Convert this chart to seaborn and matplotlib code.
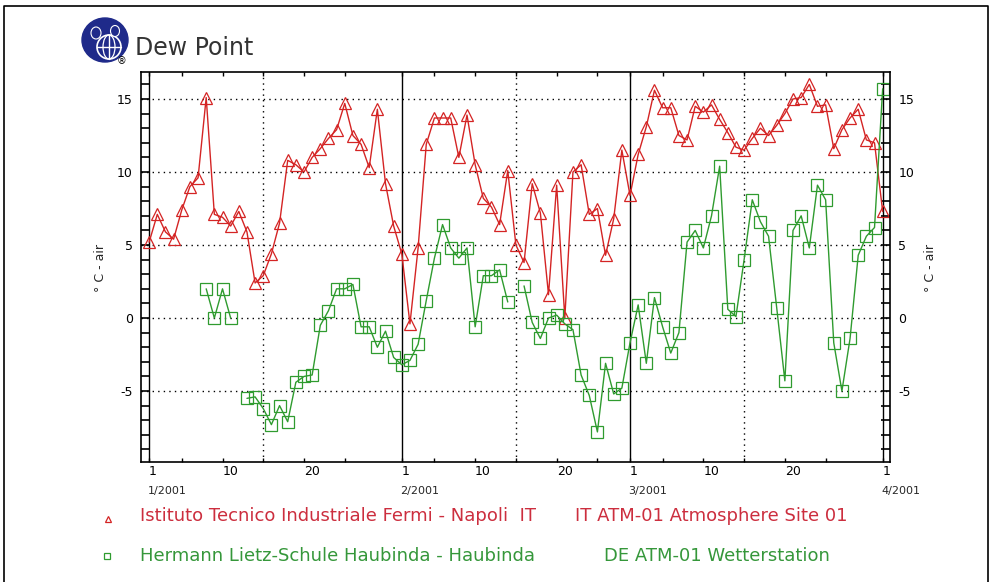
import numpy as np
import pandas as pd
import matplotlib
matplotlib.use("Agg")
import matplotlib.pyplot as plt
import matplotlib.transforms as mtransforms
from matplotlib.patches import Ellipse, Circle
import seaborn as sns

# Day offsets from 1 January 2001 through 1 April 2001
days = list(range(91))

# Dew point (deg C), Istituto Tecnico Industriale Fermi - Napoli
napoli = [5.2, 7.1, 5.9, 5.4, 7.4, 9.0, 9.6, 15.1, 7.1, 6.9,
          6.3, 7.3, 5.9, 2.4, 2.9, 4.4, 6.5, 10.8, 10.5, 10.0,
          11.0, 11.6, 12.3, 12.9, 14.7, 12.5, 11.9, 10.3, 14.3, 9.2,
          6.3, 4.4, -0.4, 4.8, 11.9, 13.7, 13.7, 13.7, 11.0, 13.9,
          10.5, 8.2, 7.6, 6.4, 10.1, 5.0, 3.8, 9.2, 7.2, 1.6,
          9.1, 0.0, 10.0, 10.5, 7.1, 7.5, 4.3, 6.8, 11.5, 8.4,
          11.2, 13.1, 15.6, 14.4, 14.4, 12.5, 12.2, 14.5, 14.1, 14.6,
          13.6, 12.7, 11.7, 11.5, 12.3, 13.0, 12.5, 13.2, 14.0, 15.0,
          15.1, 16.0, 14.5, 14.6, 11.6, 12.9, 13.7, 14.3, 12.2, 12.0,
          7.3]

# Dew point (deg C), Hermann Lietz-Schule Haubinda (None = no report)
haubinda = [None, None, None, None, None, None, None, 2.0, 0.0, 2.0,
            0.0, None, -5.5, -5.4, -6.2, -7.3, -6.0, -7.1, -4.4, -4.0,
            -3.9, -0.5, 0.5, 2.0, 2.0, 2.3, -0.6, -0.6, -2.0, -0.9,
            -2.7, -3.2, -2.9, -1.8, 1.2, 4.1, 6.4, 4.8, 4.1, 4.8,
            -0.6, 2.9, 2.9, 3.3, 1.1, None, 2.2, -0.3, -1.4, 0.0,
            0.2, -0.4, -0.8, -3.9, -5.3, -7.8, -3.1, -5.2, -4.8, -1.7,
            0.9, -3.1, 1.4, -0.6, -2.4, -1.0, 5.2, 6.0, 4.8, 7.0,
            10.4, 0.6, 0.1, 4.0, 8.1, 6.6, 5.6, 0.7, -4.3, 6.0,
            7.0, 4.8, 9.1, 8.1, -1.7, -5.0, -1.4, 4.3, 5.6, 6.2,
            15.7]

month_starts = [0, 31, 59, 90]
month_labels = ["1/2001", "2/2001", "3/2001", "4/2001"]
mid_months = [14, 45, 73]
tick_days = [0, 4, 9, 14, 19, 24, 31, 35, 40, 45, 50, 55,
             59, 63, 68, 73, 78, 83, 90]
tick_text = {0: "1", 9: "10", 19: "20", 31: "1", 40: "10", 50: "20",
             59: "1", 68: "10", 78: "20", 90: "1"}
y_major = [-5, 0, 5, 10, 15]

red_station = "Istituto Tecnico Industriale Fermi - Napoli  IT"
red_site = "IT ATM-01 Atmosphere Site 01"
green_station = "Hermann Lietz-Schule Haubinda - Haubinda"
green_site = "DE ATM-01 Wetterstation"

RED = "#d42424"
GREEN = "#2f9b2f"
RED_TXT = "#cc2e3e"
GREEN_TXT = "#35973a"
NAVY = "#1f2a8a"

sns.set_style("white")
plt.rcParams["font.family"] = ["DejaVu Sans"]

W, H = 993, 582
fig = plt.figure(figsize=(W / 100, H / 100), dpi=100)
fig.patch.set_facecolor("white")

# overlay in pixel coordinates for frame, logo and legend
ov = fig.add_axes([0, 0, 1, 1], zorder=0)
ov.set_xlim(0, W)
ov.set_ylim(H, 0)
ov.axis("off")

L, R, T, B = 141, 890, 72, 462
ax = fig.add_axes([L / W, 1 - B / H, (R - L) / W, (B - T) / H], zorder=1)
ax.patch.set_alpha(0)

df_red = pd.DataFrame({"day": days, "dew": napoli})
df_green = pd.DataFrame({"day": days, "dew": haubinda}, dtype=float)
df_green["seg"] = df_green["dew"].isna().cumsum()
df_green = df_green.dropna()

sns.lineplot(data=df_red, x="day", y="dew", ax=ax, color=RED, linewidth=1.0,
             marker="^", markersize=8.5, markerfacecolor="none",
             markeredgecolor=RED, markeredgewidth=0.9, legend=False)
sns.lineplot(data=df_green, x="day", y="dew", units="seg", estimator=None,
             ax=ax, color=GREEN, linewidth=1.0,
             marker="s", markersize=8, markerfacecolor="none",
             markeredgecolor=GREEN, markeredgewidth=0.9, legend=False)

ax.set_xlim(-1, 90.9)
ax.set_ylim(-9.86, 16.85)

for y in y_major:
    ax.axhline(y, color="black", lw=1.0, ls=(0, (1, 3)), zorder=0)
for d in mid_months:
    ax.axvline(d, color="black", lw=1.0, ls=(0, (1, 3)), zorder=0)
for d in month_starts:
    ax.axvline(d, color="black", lw=1.0, zorder=0)

for s in ax.spines.values():
    s.set_visible(True)
    s.set_color("black")
    s.set_linewidth(1.2)

ax.set_xticks(tick_days)
ax.set_xticklabels([tick_text.get(d, "") for d in tick_days])
for lab in ax.get_xticklabels():
    lab.set_horizontalalignment("left")
ax.tick_params(axis="x", which="both", direction="in", length=3, width=1,
               top=True, bottom=True, labelsize=9, pad=2, colors="black")

ax.set_yticks(y_major)
ax.set_yticklabels([str(v) for v in y_major])
ax.set_yticks(np.arange(-9, 17), minor=True)
ax.tick_params(axis="y", which="both", direction="in", length=6.5, width=1.2,
               left=True, right=True, labelleft=True, labelright=True,
               labelsize=9, pad=6, colors="black")
ax.set_xlabel("")
ax.set_ylabel("")

trans = mtransforms.blended_transform_factory(ax.transData, ax.transAxes)
for d, lab in zip(month_starts, month_labels):
    ax.annotate(lab, xy=(d, 0), xycoords=trans, xytext=(-1, -21),
                textcoords="offset points", ha="left", va="center",
                fontsize=8)

fig.text(100 / W, 1 - 268 / H, "° C - air", rotation=90, ha="center",
         va="center", fontsize=9)
fig.text(930 / W, 1 - 268 / H, "° C - air", rotation=90, ha="center",
         va="center", fontsize=9)

# outer frame
ov.plot([4, 4, 988, 988], [H + 5, 6, 6, H + 5], color="black", lw=1.2)

# logo
ov.add_patch(Ellipse((105, 40), 46, 44, color=NAVY))
ov.add_patch(Circle((109, 47), 12, fill=False, ec="white", lw=1.2))
ov.plot([97, 121], [47, 47], color="white", lw=1)
ov.plot([109, 109], [35, 59], color="white", lw=1)
ov.add_patch(Ellipse((109, 47), 12, 24, fill=False, ec="white", lw=0.9))
ov.add_patch(Ellipse((96, 33), 10, 12, color=NAVY, ec="white", lw=0.8))
ov.add_patch(Ellipse((115, 31), 9, 11, color=NAVY, ec="white", lw=0.8))
ov.text(122, 61, "®", fontsize=7, ha="center", va="center", color="black")

# title
ov.text(135, 48, "Dew Point", fontsize=17, ha="left", va="center",
        color="#333333")

# station legend
ov.plot([108], [519], marker="^", ms=5, mfc="none", mec=RED, mew=0.9)
ov.plot([107], [556], marker="s", ms=5, mfc="none", mec=GREEN, mew=0.9)
ov.text(140, 516, red_station, fontsize=13, color=RED_TXT, ha="left", va="center")
ov.text(575, 516, red_site, fontsize=13, color=RED_TXT, ha="left", va="center")
ov.text(140, 556, green_station, fontsize=13, color=GREEN_TXT, ha="left", va="center")
ov.text(604, 556, green_site, fontsize=13, color=GREEN_TXT, ha="left", va="center")

fig.savefig("out.png", dpi=100)
